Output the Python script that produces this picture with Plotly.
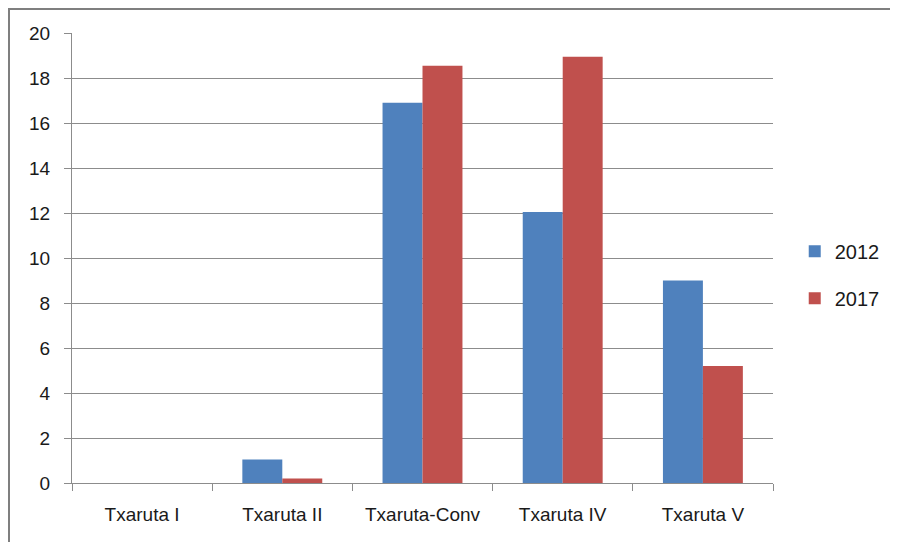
import plotly.graph_objects as go

categories = ["Txaruta I", "Txaruta II", "Txaruta-Conv", "Txaruta IV", "Txaruta V"]
values_2012 = [0, 1.05, 16.9, 12.05, 9.0]
values_2017 = [0, 0.2, 18.55, 18.95, 5.2]
y_ticks = [0, 2, 4, 6, 8, 10, 12, 14, 16, 18, 20]

FONT = "Liberation Sans"
GRID = "#8c8c8c"

fig = go.Figure()
fig.add_trace(go.Bar(name="2012", x=categories, y=values_2012, legendgroup="a",
                     marker=dict(color="#4f81bd", line=dict(width=0))))
fig.add_trace(go.Bar(name="2017", x=categories, y=values_2017, legendgroup="b",
                     marker=dict(color="#c0504d", line=dict(width=0))))

# page body has an 8px margin, so the figure sits at (8, 8)
W, H = 890, 534
L, R, T, B = 64, 125, 25, 59
pw, ph = W - L - R, H - T - B

def px(x):
    return (x - L) / pw

def py(y):
    return (H - B - y) / ph

fig.update_layout(
    width=W, height=H,
    margin=dict(l=L, r=R, t=T, b=B, pad=0),
    paper_bgcolor="white", plot_bgcolor="white",
    barmode="group", bargap=0.43, bargroupgap=0,
    font=dict(family=FONT, size=19, color="#1a1a1a"),
    showlegend=True,
    legend=dict(x=1.031, xanchor="left", y=0.463, yanchor="middle",
                font=dict(size=20), itemsizing="constant", itemwidth=30,
                tracegroupgap=18, bgcolor="rgba(0,0,0,0)"),
    xaxis=dict(showgrid=False, showline=True, linecolor=GRID, linewidth=1,
               ticks="outside", tickson="boundaries", ticklen=7, tickcolor=GRID,
               tickfont=dict(size=19), ticklabelstandoff=14, fixedrange=True),
    yaxis=dict(range=[0, 20], tickvals=y_ticks, showgrid=True, gridcolor=GRID,
               gridwidth=1, showline=True, linecolor=GRID, linewidth=1,
               ticks="outside", ticklen=7, tickcolor=GRID, zeroline=False,
               tickfont=dict(size=19), ticklabelstandoff=10, fixedrange=True),
    shapes=[
        dict(type="line", xref="paper", yref="paper", x0=px(0), x1=px(W),
             y0=py(1), y1=py(1), line=dict(color="#7f7f7f", width=2)),
        dict(type="line", xref="paper", yref="paper", x0=px(1), x1=px(1),
             y0=py(0), y1=py(H), line=dict(color="#7f7f7f", width=2)),
    ],
)

fig.write_html("out.html")
